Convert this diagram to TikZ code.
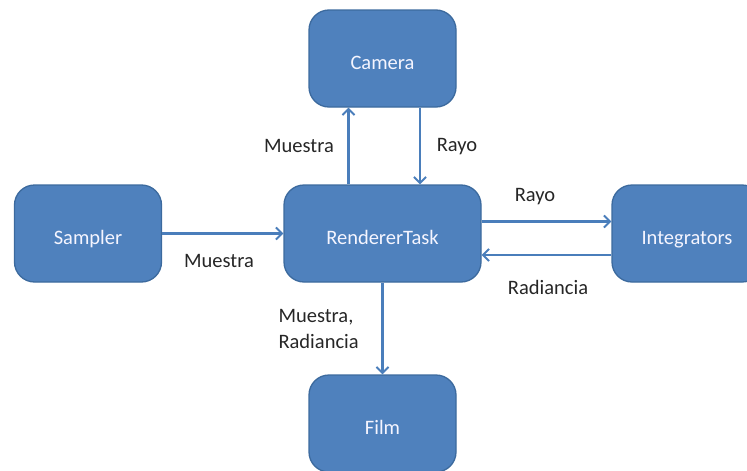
\documentclass[tikz,border=0pt]{standalone}
\usepackage{fontspec}
\setmainfont{Carlito}
\usepackage{xcolor}
\usepackage{tikz}
\usetikzlibrary{arrows.meta, positioning, calc}

\definecolor{boxblue}{HTML}{4F81BD}
\definecolor{boxline}{HTML}{3C6A9E}
\definecolor{linkblue}{HTML}{4A7EBB}

\begin{document}
\begin{tikzpicture}[
    x=1pt, y=-1pt,
    box/.style={rectangle, draw=boxline, line width=1.3pt, fill=boxblue, rounded corners=20pt,
        minimum width=147pt, minimum height=97pt, inner sep=0pt, text=white!96!blue,
        text height=21pt, text depth=0pt, font=\fontsize{20.5}{24}\selectfont},
    lbl/.style={font=\fontsize{20.5}{26}\selectfont, text=black!85},
    arrow/.style={->, line width=2.2pt, draw=linkblue, >={Straight Barb[length=6pt, width=12pt, line width=2pt]}}
]
    \useasboundingbox (0,0) rectangle (747,471);

    % Blocks
    \node[box] (cam) at (382.5,58.5) {Camera};
    \node[box] (samp) at (88,233.5) {Sampler};
    \node[box, minimum width=197pt] (rend) at (382.5,233.5) {RendererTask};
    \node[box, minimum width=150pt] (integ) at (687,233.5) {Integrators};
    \node[box] (film) at (382.5,423.5) {Film};

    % Renderer <-> camera
    \draw[arrow] ([xshift=-34pt]rend.north) -- ([xshift=-34pt]rend.north |- cam.south);
    \draw[arrow] ([xshift=37.5pt]cam.south) -- ([xshift=37.5pt]cam.south |- rend.north);

    % Sampler into renderer
    \draw[arrow] (samp.east) -- (samp.east -| rend.west);

    % Renderer <-> integrators
    \draw[arrow] ([yshift=12pt]rend.east) -- ([yshift=12pt]rend.east -| integ.west);
    \draw[arrow] ([yshift=-21.5pt]integ.west) -- ([yshift=-21.5pt]integ.west -| rend.east);

    % Renderer down to film
    \draw[arrow] (rend.south) -- (film.north);

    % Labels
    \node[lbl] (lcam) at (299,146) {Muestra};
    \node[lbl] (lray) at (457,147) {Rayo};
    \node[lbl] (lsamp) at (219,261) {Muestra};
    \node[lbl] (lrayo) at (535,197) {Rayo};
    \node[lbl] (lrad) at (548,287) {Radiancia};
    \node[lbl, align=left, anchor=west] (lfilm) at (275,329) {Muestra,\\Radiancia};
\end{tikzpicture}
\end{document}
